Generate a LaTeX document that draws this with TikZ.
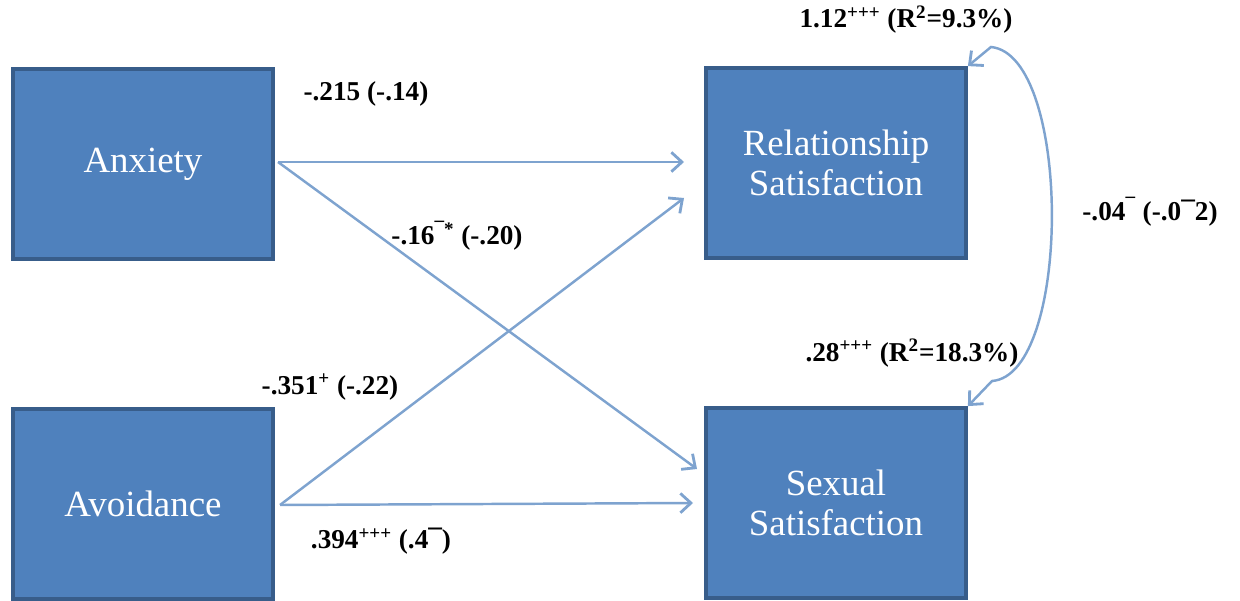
\documentclass[tikz,border=0pt]{standalone}
\usepackage{fontspec}
\setmainfont{Liberation Serif}
\usetikzlibrary{arrows.meta}
\definecolor{boxfill}{HTML}{4F81BD}
\definecolor{boxline}{HTML}{385D8A}
\definecolor{arrowc}{HTML}{7EA3CF}
\tikzset{
  varbox/.style={draw=boxline, line width=2.2pt, fill=boxfill, text=white, minimum width=5.2cm, minimum height=3.8cm, align=center, font=\fontsize{21}{23}\selectfont, inner sep=0pt},
  path/.style={draw=arrowc, line width=1.4pt, -{Straight Barb[length=6pt,width=11pt,line width=1.6pt]}},
  coef/.style={font=\bfseries\fontsize{15.5}{17}\selectfont, inner sep=1pt}
}
\begin{document}
\begin{tikzpicture}[x=0.02cm,y=-0.02cm]
\useasboundingbox (0,0) rectangle (1240,601);
\node[varbox] (anx) at (143,164) {Anxiety};
\node[varbox] (avo) at (143,504) {Avoidance};
\node[varbox] (rel) at (836,163) {Relationship\\Satisfaction};
\node[varbox] (sex) at (836,503) {Sexual\\Satisfaction};
\coordinate (a1) at (278,162);
\coordinate (a2) at (280,505);
\coordinate (r1) at (684,162);
\coordinate (r2) at (684,198);
\coordinate (s1) at (697,469);
\coordinate (s2) at (693,503);
\draw[path] (a1) -- (r1);
\draw[path] (a1) -- (s1);
\draw[path] (a2) -- (r2);
\draw[path] (a2) -- (s2);
\coordinate (t1) at (991,47);
\coordinate (t2) at (992,381);
\draw[draw=arrowc, line width=1.4pt, {Straight Barb[length=6pt,width=11pt,line width=1.6pt]}-{Straight Barb[length=6pt,width=11pt,line width=1.6pt]}]
  (rel.north east) -- (t1) .. controls (1072,55) and (1072,375) .. (t2) -- (sex.north east);
\node[coef] (l1) at (906,20) {1.12\textsuperscript{+++} (R\textsuperscript{2}=9.3\%)};
\node[coef] (l2) at (366,94) {-.215 (-.14)};
\node[coef] (l3) at (457,236) {-.16\textsuperscript{¯*} (-.20)};
\node[coef] (l4) at (1150,212) {-.04\textsuperscript{¯} (-.0¯2)};
\node[coef] (l5) at (912,353) {.28\textsuperscript{+++} (R\textsuperscript{2}=18.3\%)};
\node[coef] (l6) at (330,387) {-.351\textsuperscript{+} (-.22)};
\node[coef] (l7) at (381,541) {.394\textsuperscript{+++} (.4¯)};
\end{tikzpicture}
\end{document}
